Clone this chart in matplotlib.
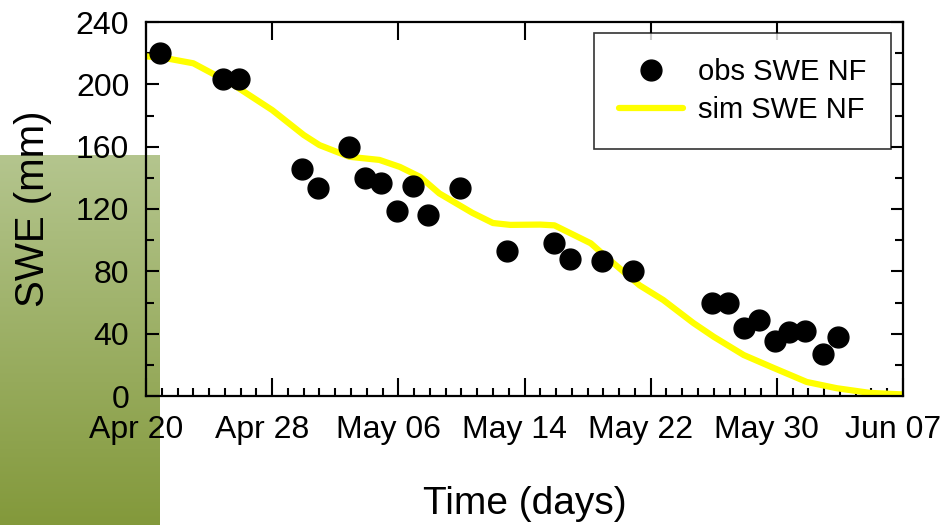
import matplotlib
matplotlib.use("Agg")
import matplotlib.pyplot as plt
import matplotlib.dates as mdates
import matplotlib.transforms as mtransforms
import numpy as np

plt.rcParams["font.family"] = ["Liberation Sans", "DejaVu Sans"]

start = np.datetime64("2013-04-20T00:00")

# observed SWE (days after Apr 20, mm)
obs_days = [0.9, 4.9, 5.9, 9.9, 10.9, 12.9, 13.9, 14.9, 15.9, 16.9, 17.9, 19.9,
            22.9, 25.9, 26.9, 28.9, 30.9, 35.9, 36.9, 37.9, 38.9, 39.9, 40.8,
            41.8, 42.9, 43.9]
obs_swe = [220, 203.5, 203.5, 145.5, 133.5, 160, 140, 137, 119, 135, 116, 133.5,
           93, 98, 88, 86.5, 80, 59.5, 59.5, 43.5, 48.5, 35.5, 41, 41.5, 27, 38]

# simulated SWE
sim_days = [0, 1.4, 3, 5.5, 8, 10, 11, 12.9, 14.8, 16.1, 17.4, 18.6, 20.7, 22,
            23.1, 25, 25.9, 28.2, 29.4, 31.3, 32.8, 34.7, 36, 37.9, 39.8, 41.9,
            43.8, 45.9, 48]
sim_swe = [218, 216.5, 213.5, 200, 183.5, 167.5, 161, 153.5, 151.5, 147, 140.5,
           130, 117.5, 111, 109.8, 110, 109.5, 98, 87.3, 71, 61.6, 46.9, 38,
           26.3, 18, 9, 5, 2, 1]


def to_dates(days):
    return start + (np.array(days) * 24 * 60).astype("timedelta64[m]")


fig = plt.figure(figsize=(9.43, 5.25), dpi=100)

# green gradient block behind the left side
bg = fig.add_axes([0, 0, 160 / 943, (525 - 155) / 525], zorder=0)
grad = np.linspace(0, 1, 256).reshape(-1, 1)
top_c = np.array([180, 197, 142]) / 255
bot_c = np.array([131, 153, 59]) / 255
img = top_c * (1 - grad[..., None]) + bot_c * grad[..., None]
bg.imshow(img, aspect="auto", extent=[0, 1, 0, 1])
bg.axis("off")

ax = fig.add_axes([146 / 943, 129 / 525, 757 / 943, 374 / 525], zorder=1)
ax.patch.set_alpha(0)

ax.plot(to_dates(sim_days), sim_swe, color="#ffff00", lw=4.5,
        label="sim SWE NF", zorder=2, solid_capstyle="round")
ax.plot(to_dates(obs_days), obs_swe, "o", color="black", ms=15,
        label="obs SWE NF", zorder=3)

ax.set_xlim(start, start + np.timedelta64(48, "D"))
ax.set_ylim(0, 240)
ax.set_xticks(to_dates(np.arange(0, 49, 8)))
ax.set_xticks(to_dates(np.arange(0, 49, 1)), minor=True)
ax.xaxis.set_major_formatter(mdates.DateFormatter("%b %d"))
ax.set_yticks(np.arange(0, 241, 40))
ax.set_yticks(np.arange(0, 241, 20), minor=True)

for s in ax.spines.values():
    s.set_linewidth(1.6)

ax.tick_params(axis="both", which="both", direction="in", width=1.5,
               labelsize=23, top=True, right=True)
ax.tick_params(axis="x", which="major", length=13, pad=14)
ax.tick_params(axis="x", which="minor", length=6, top=False)
ax.tick_params(axis="y", which="major", length=9, pad=12)
ax.tick_params(axis="y", which="minor", length=6)

# date labels sit a little left of their ticks
shift = mtransforms.ScaledTranslation(-10 / 100, 0, fig.dpi_scale_trans)
for lab in ax.get_xticklabels():
    lab.set_transform(lab.get_transform() + shift)

ax.set_xlabel("Time (days)", fontsize=28, labelpad=29)
ax.set_ylabel("SWE (mm)", fontsize=29, labelpad=17)

h, l = ax.get_legend_handles_labels()
leg = ax.legend(h[::-1], l[::-1], loc="upper right", fontsize=21,
                frameon=True, fancybox=False, edgecolor="black",
                handlelength=2.2, handletextpad=0.5, borderpad=0.85,
                borderaxespad=0, labelspacing=0.35,
                bbox_to_anchor=(1 - 12 / 757, 1 - 11 / 374))
leg.get_frame().set_linewidth(1.2)

fig.savefig("out.png", dpi=100)
